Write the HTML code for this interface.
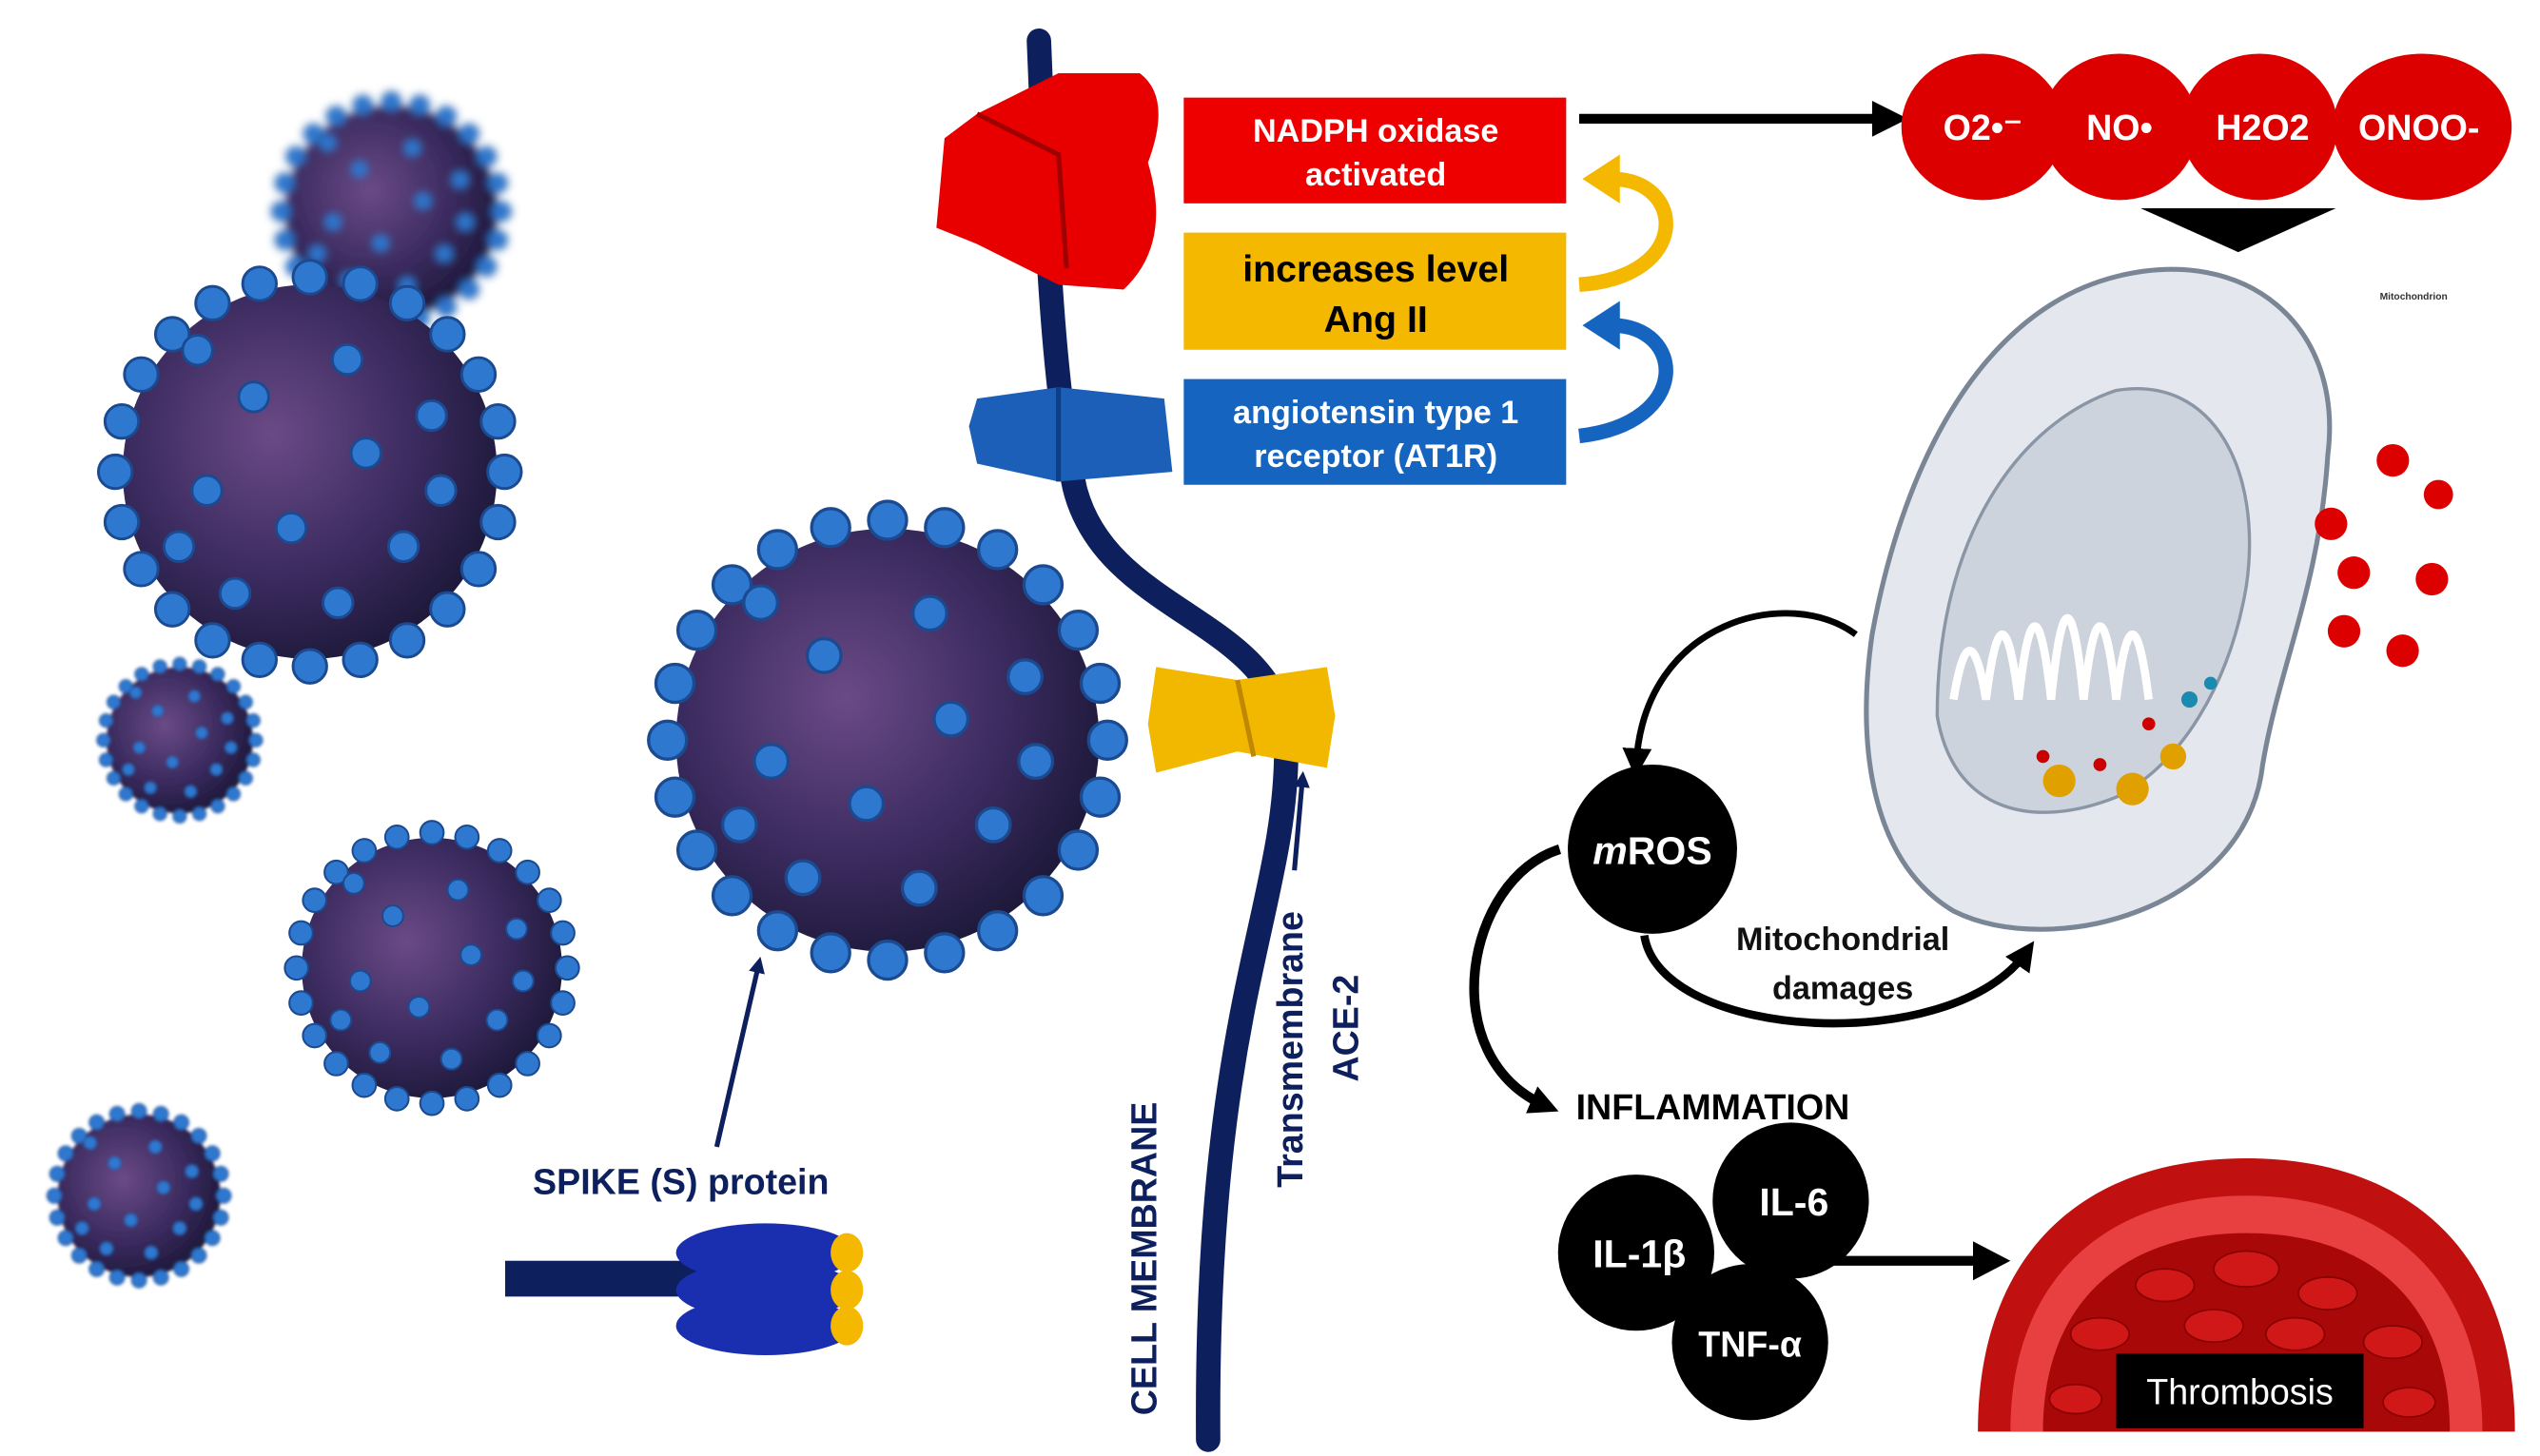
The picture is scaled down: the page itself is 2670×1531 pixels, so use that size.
<!DOCTYPE html>
<html><head><meta charset="utf-8"><style>
html,body{margin:0;padding:0;background:#fff;width:2670px;height:1531px;overflow:hidden}
svg{display:block}
text{font-family:"Liberation Sans",sans-serif;font-weight:bold}
</style></head><body>
<svg width="2670" height="1531" viewBox="0 0 1560 895" xmlns="http://www.w3.org/2000/svg">
<defs>
<radialGradient id="vg" cx="40%" cy="40%" r="65%"><stop offset="0" stop-color="#6a4a86"/><stop offset="0.6" stop-color="#3a2a5e"/><stop offset="1" stop-color="#1c1838"/></radialGradient>
<filter id="bl"><feGaussianBlur stdDeviation="4"/></filter>
<filter id="bl2"><feGaussianBlur stdDeviation="2"/></filter>
<marker id="ahb" markerWidth="18" markerHeight="18" refX="10" refY="9" orient="auto" markerUnits="userSpaceOnUse"><path d="M0,0 L18,9 L0,18z" fill="#000"/></marker>
<marker id="ahn" markerWidth="10" markerHeight="10" refX="6" refY="5" orient="auto" markerUnits="userSpaceOnUse"><path d="M0,0 L10,5 L0,10z" fill="#0d1f5c"/></marker>
<g id="vir">
<circle r="100" fill="url(#vg)"/>
<g fill="#2f78d0" stroke="#1b4a90" stroke-width="1.5">
<circle cx="104" cy="0" r="9"/><circle cx="100.5" cy="26.9" r="9"/><circle cx="90.1" cy="52" r="9"/><circle cx="73.5" cy="73.5" r="9"/><circle cx="52" cy="90.1" r="9"/><circle cx="26.9" cy="100.5" r="9"/>
<circle cx="0" cy="104" r="9"/><circle cx="-26.9" cy="100.5" r="9"/><circle cx="-52" cy="90.1" r="9"/><circle cx="-73.5" cy="73.5" r="9"/><circle cx="-90.1" cy="52" r="9"/><circle cx="-100.5" cy="26.9" r="9"/>
<circle cx="-104" cy="0" r="9"/><circle cx="-100.5" cy="-26.9" r="9"/><circle cx="-90.1" cy="-52" r="9"/><circle cx="-73.5" cy="-73.5" r="9"/><circle cx="-52" cy="-90.1" r="9"/><circle cx="-26.9" cy="-100.5" r="9"/>
<circle cx="0" cy="-104" r="9"/><circle cx="26.9" cy="-100.5" r="9"/><circle cx="52" cy="-90.1" r="9"/><circle cx="73.5" cy="-73.5" r="9"/><circle cx="90.1" cy="-52" r="9"/><circle cx="100.5" cy="-26.9" r="9"/>
<circle cx="-30" cy="-40" r="8"/><circle cx="30" cy="-10" r="8"/><circle cx="-10" cy="30" r="8"/><circle cx="50" cy="40" r="8"/><circle cx="-55" cy="10" r="8"/><circle cx="20" cy="-60" r="8"/><circle cx="-60" cy="-65" r="8"/><circle cx="65" cy="-30" r="8"/><circle cx="-40" cy="65" r="8"/><circle cx="15" cy="70" r="8"/><circle cx="-70" cy="40" r="8"/><circle cx="70" cy="10" r="8"/></g>
</g>
</defs>
<use href="#vir" transform="translate(240,130) scale(0.65)" filter="url(#bl)"/>
<use href="#vir" transform="translate(190,290) scale(1.15)"/>
<use href="#vir" transform="translate(110,455) scale(0.45)" filter="url(#bl2)"/>
<use href="#vir" transform="translate(265,595) scale(0.8)"/>
<use href="#vir" transform="translate(85,735) scale(0.5)" filter="url(#bl2)"/>
<use href="#vir" transform="translate(545,455) scale(1.3)"/>
<path d="M638,25 C642,120 645,230 660,300 C680,380 790,380 790,460 C790,560 740,620 742,885" fill="none" stroke="#0d1f5c" stroke-width="15" stroke-linecap="round"/>
<path d="M600,70 L650,45 L700,45 Q720,60 705,100 Q720,150 690,178 L650,175 L600,150 L575,140 L580,85z" fill="#e80000"/>
<path d="M600,70 L650,95 L655,165" stroke="#a00000" stroke-width="3" fill="none"/>
<path d="M600,245 L650,238 L715,245 L720,290 L650,296 L600,285 L595,262z" fill="#1b5fb8"/>
<path d="M650,238 L650,296" stroke="#0d3f88" stroke-width="3"/>
<path d="M710,410 L760,418 L815,410 L820,440 L815,472 L760,462 L710,475 L705,445z" fill="#f2b800"/>
<path d="M760,418 L770,465" stroke="#c08800" stroke-width="3"/>
<rect x="727" y="60" width="235" height="65" fill="#ee0000"/>
<text x="845" y="87" fill="#fff" font-size="20" text-anchor="middle">NADPH oxidase</text>
<text x="845" y="114" fill="#fff" font-size="20" text-anchor="middle">activated</text>
<rect x="727" y="143" width="235" height="72" fill="#f5b800"/>
<text x="845" y="173" fill="#000" font-size="23" text-anchor="middle">increases level</text>
<text x="845" y="204" fill="#000" font-size="23" text-anchor="middle">Ang II</text>
<rect x="727" y="233" width="235" height="65" fill="#1565c0"/>
<text x="845" y="260" fill="#fff" font-size="20" text-anchor="middle">angiotensin type 1</text>
<text x="845" y="287" fill="#fff" font-size="20" text-anchor="middle">receptor (AT1R)</text>
<path d="M970,175 C1040,170 1035,110 990,110" fill="none" stroke="#f5b800" stroke-width="9"/>
<path d="M995,95 L972,110 L995,125z" fill="#f5b800"/>
<path d="M970,268 C1040,260 1035,200 990,200" fill="none" stroke="#1565c0" stroke-width="9"/>
<path d="M995,185 L972,200 L995,215z" fill="#1565c0"/>
<line x1="970" y1="73" x2="1155" y2="73" stroke="#000" stroke-width="6"/>
<path d="M1150,62 L1172,73 L1150,84z" fill="#000"/>
<g fill="#dd0000"><ellipse cx="1218" cy="78" rx="50" ry="45"/><ellipse cx="1302" cy="78" rx="48" ry="45"/><ellipse cx="1388" cy="78" rx="48" ry="45"/><ellipse cx="1488" cy="78" rx="55" ry="45"/></g>
<text x="1218" y="86" fill="#fff" font-size="22" text-anchor="middle">O2•⁻</text>
<text x="1302" y="86" fill="#fff" font-size="22" text-anchor="middle">NO•</text>
<text x="1390" y="86" fill="#fff" font-size="22" text-anchor="middle">H2O2</text>
<text x="1486" y="86" fill="#fff" font-size="22" text-anchor="middle">ONOO-</text>
<path d="M1315,128 L1435,128 L1375,155z" fill="#000"/>
<path d="M1300,170 C1380,150 1440,200 1430,280 C1425,360 1400,410 1390,470 C1380,560 1260,590 1200,560 C1150,530 1140,460 1150,390 C1170,280 1220,190 1300,170z" fill="#e4e8ee" stroke="#7a8696" stroke-width="3"/>
<path d="M1190,440 C1190,330 1240,260 1300,240 C1360,230 1390,290 1380,360 C1370,420 1340,470 1300,490 C1250,510 1200,500 1190,440z" fill="#cdd3dc" stroke="#8a96a6" stroke-width="2"/>
<path d="M1200,430 q10,-60 20,0 q10,-80 20,0 q10,-90 20,0 q10,-100 20,0 q10,-90 20,0 q10,-80 20,0" fill="none" stroke="#fff" stroke-width="5"/>
<g fill="#e0a000"><circle cx="1265" cy="480" r="10"/><circle cx="1310" cy="485" r="10"/><circle cx="1335" cy="465" r="8"/></g>
<g fill="#c00"><circle cx="1255" cy="465" r="4"/><circle cx="1290" cy="470" r="4"/><circle cx="1320" cy="445" r="4"/></g>
<g fill="#1a8ab0"><circle cx="1345" cy="430" r="5"/><circle cx="1358" cy="420" r="4"/></g>
<text x="1462" y="184" font-size="6" fill="#333">Mitochondrion</text>
<g fill="#dd0000"><circle cx="1470" cy="283" r="10"/><circle cx="1498" cy="304" r="9"/><circle cx="1432" cy="322" r="10"/><circle cx="1446" cy="352" r="10"/><circle cx="1494" cy="356" r="10"/><circle cx="1440" cy="388" r="10"/><circle cx="1476" cy="400" r="10"/></g>
<path d="M1140,390 C1100,360 1010,380 1005,470" fill="none" stroke="#000" stroke-width="4" marker-end="url(#ahb)"/>
<circle cx="1015" cy="522" r="52" fill="#000"/>
<text x="1015" y="531" fill="#fff" font-size="24" text-anchor="middle"><tspan font-style="italic">m</tspan>ROS</text>
<path d="M1010,575 C1020,640 1200,650 1245,585" fill="none" stroke="#000" stroke-width="5" marker-end="url(#ahb)"/>
<text x="1132" y="584" font-size="20" text-anchor="middle" fill="#111">Mitochondrial</text>
<text x="1132" y="614" font-size="20" text-anchor="middle" fill="#111">damages</text>
<path d="M958,522 C900,540 880,650 950,680" fill="none" stroke="#000" stroke-width="6" marker-end="url(#ahb)"/>
<text x="968" y="688" font-size="22" fill="#000">INFLAMMATION</text>
<circle cx="1100" cy="738" r="48" fill="#000"/>
<circle cx="1005" cy="770" r="48" fill="#000"/>
<circle cx="1075" cy="825" r="48" fill="#000"/>
<text x="1102" y="747" fill="#fff" font-size="24" text-anchor="middle">IL-6</text>
<text x="1007" y="779" fill="#fff" font-size="24" text-anchor="middle">IL-1β</text>
<text x="1075" y="834" fill="#fff" font-size="22" text-anchor="middle">TNF-α</text>
<line x1="1125" y1="775" x2="1215" y2="775" stroke="#000" stroke-width="6"/>
<path d="M1212,763 L1235,775 L1212,787z" fill="#000"/>
<path d="M1215,880 C1215,770 1280,712 1380,712 C1480,712 1545,770 1545,880z" fill="#c01010"/>
<path d="M1235,880 C1235,785 1295,735 1380,735 C1465,735 1525,785 1525,880z" fill="#e84040"/>
<path d="M1255,880 C1255,800 1305,758 1380,758 C1455,758 1505,800 1505,880z" fill="#a80808"/>
<g fill="#d01818" stroke="#800" stroke-width="1"><ellipse cx="1290" cy="820" rx="18" ry="10"/><ellipse cx="1330" cy="790" rx="18" ry="10"/><ellipse cx="1380" cy="780" rx="20" ry="11"/><ellipse cx="1430" cy="795" rx="18" ry="10"/><ellipse cx="1470" cy="825" rx="18" ry="10"/><ellipse cx="1360" cy="815" rx="18" ry="10"/><ellipse cx="1410" cy="820" rx="18" ry="10"/><ellipse cx="1275" cy="860" rx="16" ry="9"/><ellipse cx="1480" cy="862" rx="16" ry="9"/></g>
<rect x="1300" y="832" width="152" height="46" fill="#000"/>
<text x="1376" y="863" fill="#fff" font-size="22" text-anchor="middle" style="font-weight:normal">Thrombosis</text>
<text x="418" y="734" font-size="22" fill="#0d1f5c" text-anchor="middle">SPIKE (S) protein</text>
<line x1="440" y1="705" x2="466" y2="592" stroke="#0d1f5c" stroke-width="3" marker-end="url(#ahn)"/>
<rect x="310" y="775" width="130" height="22" fill="#0d1f5c"/>
<ellipse cx="470" cy="770" rx="55" ry="18" fill="#1a2fb0"/>
<ellipse cx="470" cy="793" rx="55" ry="18" fill="#1a2fb0"/>
<ellipse cx="470" cy="815" rx="55" ry="18" fill="#1a2fb0"/>
<ellipse cx="520" cy="770" rx="10" ry="12" fill="#f5b800"/>
<ellipse cx="520" cy="793" rx="10" ry="12" fill="#f5b800"/>
<ellipse cx="520" cy="815" rx="10" ry="12" fill="#f5b800"/>
<text transform="translate(710,870) rotate(-90)" font-size="22" fill="#0d1f5c">CELL MEMBRANE</text>
<text transform="translate(800,730) rotate(-90)" font-size="22" fill="#0d1f5c">Transmembrane</text>
<text transform="translate(834,665) rotate(-90)" font-size="22" fill="#0d1f5c">ACE-2</text>
<line x1="795" y1="535" x2="800" y2="478" stroke="#0d1f5c" stroke-width="3" marker-end="url(#ahn)"/>
</svg>
</body></html>
